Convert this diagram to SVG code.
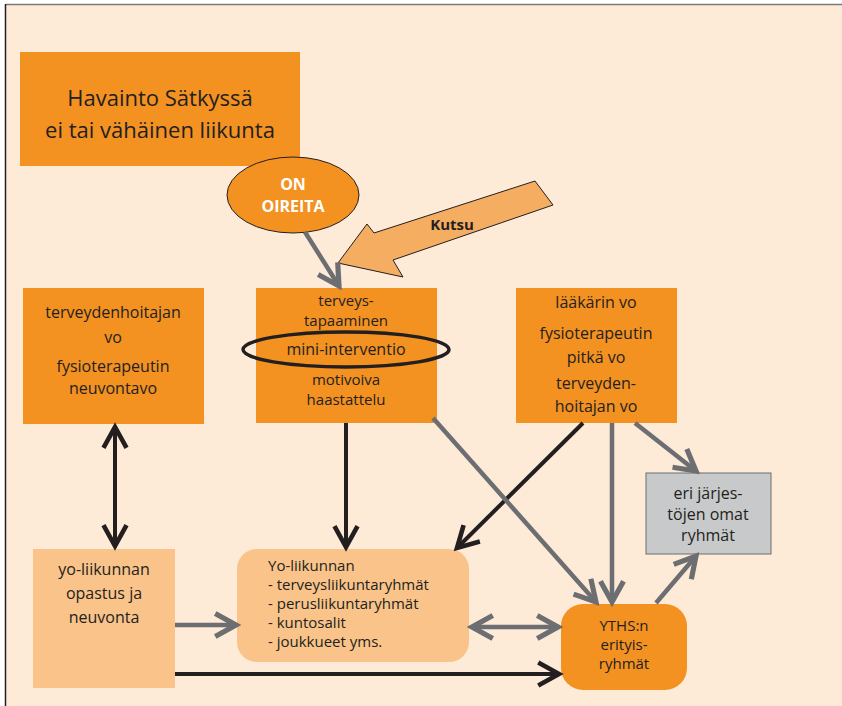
<svg xmlns="http://www.w3.org/2000/svg" width="842" height="706" viewBox="0 0 842 706">
<style>
.t{font-family:"Open Sans","Liberation Sans",sans-serif;fill:#231F20;text-anchor:middle;dominant-baseline:central}
.s16{font-size:16px}
.s15{font-size:15px}
.g{stroke:#6D6E71;stroke-width:4.5;fill:none}
.k{stroke:#231F20;stroke-width:4;fill:none}
</style>
<defs>
<marker id="ag" markerUnits="userSpaceOnUse" markerWidth="30" markerHeight="30" viewBox="-22 -12 26 24" refX="0" refY="0" orient="auto-start-reverse">
<path d="M-18,-10 L0,0 L-18,10" fill="none" stroke="#6D6E71" stroke-width="4.5"/>
</marker>
<marker id="ak" markerUnits="userSpaceOnUse" markerWidth="30" markerHeight="30" viewBox="-22 -12 26 24" refX="0" refY="0" orient="auto-start-reverse">
<path d="M-18,-10 L0,0 L-18,10" fill="none" stroke="#231F20" stroke-width="4"/>
</marker>
</defs>
<rect x="0" y="0" width="842" height="706" fill="#FFFFFF"/>
<rect x="6" y="5" width="836" height="701" fill="#FDEBD8"/>
<line x1="6" y1="4.5" x2="842" y2="4.5" stroke="#7A7A7A" stroke-width="1.5"/>
<line x1="5.5" y1="4" x2="5.5" y2="706" stroke="#231F20" stroke-width="1.5"/>

<g id="havainto">
<rect x="20" y="52" width="280" height="114" fill="#F39121"/>
<text class="t" x="160" y="97" font-size="22">Havainto Sätkyssä</text>
<text class="t" x="160" y="129" font-size="22">ei tai vähäinen liikunta</text>
</g>

<g id="oireita">
<ellipse cx="293" cy="195" rx="66" ry="38" fill="#F39121" stroke="#231F20" stroke-width="1"/>
<text class="t" x="293" y="184" font-size="16" font-weight="bold" style="fill:#FFFFFF">ON</text>
<text class="t" x="293" y="206" font-size="16" font-weight="bold" style="fill:#FFFFFF">OIREITA</text>
</g>

<g id="kutsu">
<polygon points="338,263 367,224 374,233 535,181 553,205 393,260 403,277" fill="#F5AD62" stroke="#231F20" stroke-width="1"/>
<text class="t" x="452" y="224" font-size="15" font-weight="bold">Kutsu</text>
</g>

<g id="terveystapaaminen">
<rect x="256" y="288" width="181" height="135" fill="#F39121"/>
<text class="t s15" x="346" y="300">terveys-</text>
<text class="t s15" x="346" y="320">tapaaminen</text>
<text class="t s16" x="346" y="349">mini-interventio</text>
<ellipse cx="346" cy="349.5" rx="103" ry="17.5" fill="none" stroke="#231F20" stroke-width="3.5"/>
<text class="t s15" x="346" y="379">motivoiva</text>
<text class="t s15" x="346" y="399">haastattelu</text>
</g>

<g id="terveydenhoitajan">
<rect x="23" y="288" width="181" height="136" fill="#F39121"/>
<text class="t s16" x="113" y="312">terveydenhoitajan</text>
<text class="t s16" x="113" y="337">vo</text>
<text class="t s16" x="113" y="366">fysioterapeutin</text>
<text class="t s16" x="113" y="388">neuvontavo</text>
</g>

<g id="laakarin">
<rect x="516" y="288" width="161" height="135" fill="#F39121"/>
<text class="t s16" x="596" y="302">lääkärin vo</text>
<text class="t s16" x="596" y="333">fysioterapeutin</text>
<text class="t s16" x="596" y="357">pitkä vo</text>
<text class="t s16" x="596" y="383">terveyden-</text>
<text class="t s16" x="596" y="406">hoitajan vo</text>
</g>

<g id="yo-opastus">
<rect x="33" y="549" width="142" height="139" fill="#F9C389"/>
<text class="t s16" x="104" y="569">yo-liikunnan</text>
<text class="t s16" x="104" y="593">opastus ja</text>
<text class="t s16" x="104" y="617">neuvonta</text>
</g>

<g id="yo-liikunnan">
<rect x="237" y="549" width="232" height="113" rx="20" fill="#F9C389"/>
<text class="t s15" x="268" y="565" style="text-anchor:start">Yo-liikunnan</text>
<text class="t s15" x="268" y="584" style="text-anchor:start">- terveysliikuntaryhmät</text>
<text class="t s15" x="268" y="603" style="text-anchor:start">- perusliikuntaryhmät</text>
<text class="t s15" x="268" y="622" style="text-anchor:start">- kuntosalit</text>
<text class="t s15" x="268" y="641" style="text-anchor:start">- joukkueet yms.</text>
</g>

<g id="yths">
<rect x="561" y="604" width="126" height="86" rx="22" fill="#F39121"/>
<text class="t s15" x="624" y="625">YTHS:n</text>
<text class="t s15" x="624" y="644">erityis-</text>
<text class="t s15" x="624" y="663">ryhmät</text>
</g>

<g id="jarjestot">
<rect x="646" y="473" width="125" height="81" fill="#C8C9CB" stroke="#6D6E71" stroke-width="1"/>
<text class="t s16" x="708" y="493">eri järjes-</text>
<text class="t s16" x="708" y="514">töjen omat</text>
<text class="t s16" x="708" y="535">ryhmät</text>
</g>

<g id="connectors">
<line class="g" x1="305" y1="232" x2="339" y2="286" marker-end="url(#ag)"/>
<line class="k" x1="346" y1="423" x2="346" y2="547" marker-end="url(#ak)"/>
<line class="k" x1="583" y1="423" x2="457" y2="548" marker-end="url(#ak)"/>
<line class="g" x1="433" y1="418" x2="596" y2="602" marker-end="url(#ag)"/>
<line class="g" x1="612" y1="423" x2="612" y2="602" marker-end="url(#ag)"/>
<line class="g" x1="635" y1="423" x2="696" y2="471" marker-end="url(#ag)"/>
<line class="g" x1="656" y1="603" x2="696" y2="556" marker-end="url(#ag)"/>
<line class="g" x1="175" y1="625" x2="236" y2="625" marker-end="url(#ag)"/>
<line class="g" x1="472" y1="627" x2="558" y2="627" marker-start="url(#ag)" marker-end="url(#ag)"/>
<line class="k" x1="175" y1="674" x2="559" y2="674" marker-end="url(#ak)"/>
<line class="k" x1="115" y1="427" x2="115" y2="546" marker-start="url(#ak)" marker-end="url(#ak)"/>
</g>
</svg>
